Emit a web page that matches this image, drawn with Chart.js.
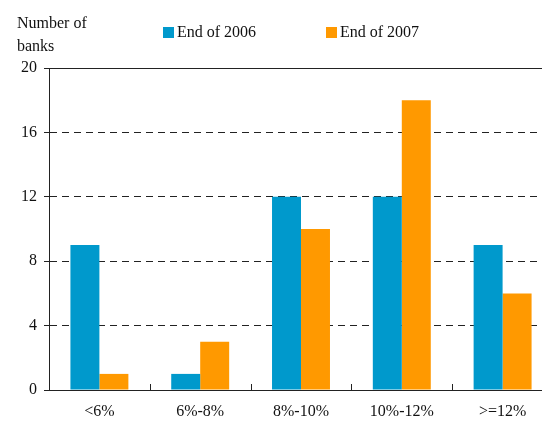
<!DOCTYPE html>
<html>
<head>
<meta charset="utf-8">
<script src="https://cdn.jsdelivr.net/npm/chart.js@4"></script>
<style>
  html, body { margin: 0; padding: 0; background: #fff; overflow: hidden; }
  #wrap { position: relative; width: 554px; height: 421px; }
  .txt { position: absolute; font-family: "Liberation Serif", "Times New Roman", serif; font-size: 16px; color: #111; line-height: 23px; }
  .box { display: inline-block; width: 11px; height: 11px; vertical-align: -1px; margin-right: 3px; }
</style>
</head>
<body>
<div id="wrap">
  <canvas id="bankChart" width="554" height="421"></canvas>
  <div class="txt" style="left:17px; top:11px;">Number of<br>banks</div>
  <div class="txt" style="left:163px; top:20px;"><span class="box" style="background:#0099CC"></span>End of 2006</div>
  <div class="txt" style="left:326px; top:20px;"><span class="box" style="background:#FF9900"></span>End of 2007</div>
</div>
<script>
const categories = ["<6%", "6%-8%", "8%-10%", "10%-12%", ">=12%"];
const end2006 = [9, 1, 12, 12, 9];
const end2007 = [1, 3, 10, 18, 6];
const yTicks = [0, 4, 8, 12, 16, 20];

// kleine striche zwischen den kategorien, nach innen
const innerTicks = {
    id: "innerTicks",
    afterDraw(chart) {
        const x = chart.scales.x;
        const ctx = chart.ctx;
        const bottom = chart.chartArea.bottom;
        ctx.save();
        ctx.strokeStyle = "#222";
        ctx.lineWidth = 1;
        for (let i = 1; i < categories.length; i++) {
            const px = Math.round((x.getPixelForValue(i - 1) + x.getPixelForValue(i)) / 2) + 0.5;
            ctx.beginPath();
            ctx.moveTo(px, bottom);
            ctx.lineTo(px, bottom - 6);
            ctx.stroke();
        }
        ctx.restore();
    }
};

const ctx = document.getElementById("bankChart").getContext("2d");

new Chart(ctx, {
    type: "bar",
    data: {
        labels: categories,
        datasets: [
            {
                label: "End of 2006",
                data: end2006,
                backgroundColor: "#0099CC",
                borderWidth: 0,
                categoryPercentage: 0.575,
                barPercentage: 1
            },
            {
                label: "End of 2007",
                data: end2007,
                backgroundColor: "#FF9900",
                borderWidth: 0,
                categoryPercentage: 0.575,
                barPercentage: 1
            }
        ]
    },
    options: {
        responsive: false,
        animation: false,
        layout: {
            padding: { left: 0, right: 1, top: 68, bottom: 0 }
        },
        plugins: {
            legend: { display: false },
            tooltip: { enabled: false }
        },
        scales: {
            x: {
                grid: { display: false },
                border: { display: true, color: "#222", width: 1 },
                ticks: {
                    color: "#111",
                    padding: 4,
                    maxRotation: 0,
                    font: { family: "Liberation Serif", size: 16 }
                },
                afterFit: function(scale) { scale.height = 31; }
            },
            y: {
                min: 0,
                max: 20,
                afterBuildTicks: function(scale) {
                    scale.ticks = yTicks.map(v => ({ value: v }));
                },
                grid: {
                    color: function(c) { return c.tick && c.tick.value === 0 ? "rgba(0,0,0,0)" : "#222"; },
                    lineWidth: 1,
                    drawTicks: true,
                    tickLength: 5,
                    tickColor: "#222"
                },
                border: {
                    display: true,
                    color: "#222",
                    width: 1,
                    dash: function(c) { return c.tick && c.tick.value === 20 ? [] : [7, 5]; }
                },
                ticks: {
                    color: "#111",
                    padding: 7,
                    font: { family: "Liberation Serif", size: 16 }
                },
                afterFit: function(scale) { scale.width = 49; }
            }
        }
    },
    plugins: [innerTicks]
});
</script>
</body>
</html>
